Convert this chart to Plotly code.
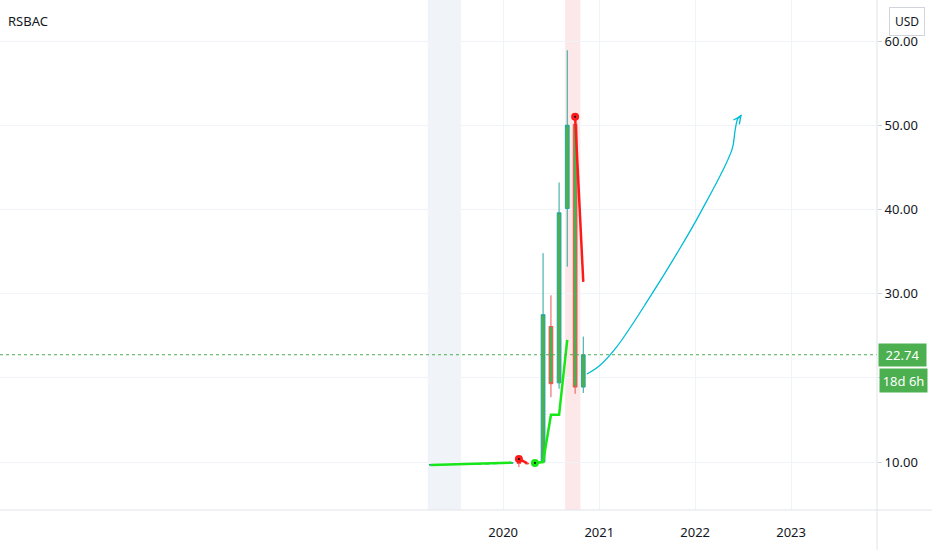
import plotly.graph_objects as go

# ---- data ----
candle_dates = ["2019-04-01", "2019-05-01", "2019-06-01", "2019-07-01",
                "2019-08-01", "2019-09-01", "2019-10-01", "2019-11-01", "2019-12-01",
                "2020-01-01", "2020-02-01", "2020-03-01", "2020-04-01", "2020-05-01",
                "2020-06-01", "2020-07-01", "2020-08-01", "2020-09-01", "2020-10-01",
                "2020-11-01"]
opens  = [9.65, 9.67, 9.68, 9.70, 9.72, 9.74, 9.76, 9.78, 9.80, 9.82, 9.86, 9.92, 9.85, 9.80,
          10.00, 26.10, 19.40, 40.10, 50.10, 18.90]
highs  = [9.70, 9.72, 9.75, 9.80, 9.78, 9.80, 9.82, 9.84, 9.86, 9.90, 10.00, 10.30, 9.95, 10.10,
          34.80, 29.80, 43.20, 58.90, 50.30, 24.90]
lows   = [9.62, 9.64, 9.66, 9.68, 9.70, 9.72, 9.74, 9.76, 9.78, 9.80, 9.84, 9.40, 9.70, 9.75,
          9.90, 17.70, 18.70, 33.20, 18.10, 18.20]
closes = [9.67, 9.68, 9.70, 9.72, 9.74, 9.76, 9.78, 9.80, 9.82, 9.86, 9.92, 9.85, 9.80, 10.00,
          27.50, 19.30, 39.60, 50.00, 18.90, 22.74]

# indicator segments
ind_green1_dates = ["2019-04-01", "2019-09-01", "2020-02-01"]
ind_green1_vals = [9.64, 9.76, 9.93]
ind_red1_dates = ["2020-03-01", "2020-04-01"]
ind_red1_vals = [10.36, 9.88]
ind_green2_dates = ["2020-05-01", "2020-06-01", "2020-07-01", "2020-08-01", "2020-09-01"]
ind_green2_vals = [9.88, 10.0, 15.6, 15.6, 24.5]
ind_red2_dates = ["2020-10-01", "2020-11-01"]
ind_red2_vals = [51.0, 31.4]
dot_red_dates = ["2020-03-01", "2020-10-01"]
dot_red_vals = [10.36, 51.0]
dot_green_dates = ["2020-05-01"]
dot_green_vals = [9.88]

# projection drawing
proj_dates = ["2020-11-15", "2021-01-04", "2021-03-09", "2021-07-13", "2021-10-24",
              "2022-01-19", "2022-05-21", "2022-06-02", "2022-06-13", "2022-06-27"]
proj_vals = [20.45, 21.5, 23.7, 29.6, 34.8, 39.5, 47.1, 49.4, 50.85, 51.2]

last_price = 22.74
countdown = "18d 6h"
symbol = "RSBAC"
currency = "USD"

y_ticks = [10, 20, 30, 40, 50, 60]
y_labels = ["10.00", "", "30.00", "40.00", "50.00", "60.00"]
x_ticks = ["2020-01-01", "2021-01-01", "2022-01-01", "2023-01-01"]
x_labels = ["2020", "2021", "2022", "2023"]

gray_band = ["2019-03-20", "2019-07-24"]
pink_band = ["2020-08-24", "2020-10-21"]

# ---- figure ----
FONT = "Noto Sans"
W, H = 932, 550
PW, PH = 877, 510
fig = go.Figure()

fig.add_trace(go.Candlestick(
    x=candle_dates, open=opens, high=highs, low=lows, close=closes,
    increasing=dict(line=dict(color="#26a69a", width=1), fillcolor="#4caf50"),
    decreasing=dict(line=dict(color="#ef5350", width=1), fillcolor="#4caf50"),
    whiskerwidth=0, showlegend=False, hoverinfo="skip"))

for d, v, c in [(ind_green1_dates, ind_green1_vals, "#17e617"),
                (ind_red1_dates, ind_red1_vals, "#ff1a1a"),
                (ind_green2_dates, ind_green2_vals, "#17e617"),
                (ind_red2_dates, ind_red2_vals, "#ff1a1a")]:
    fig.add_trace(go.Scatter(x=d, y=v, mode="lines", line=dict(color=c, width=2.5),
                             showlegend=False, hoverinfo="skip"))

fig.add_trace(go.Scatter(x=dot_red_dates, y=dot_red_vals, mode="markers",
                         marker=dict(color="#000000", size=5, line=dict(color="#ff1a1a", width=3)),
                         showlegend=False, hoverinfo="skip"))
fig.add_trace(go.Scatter(x=dot_green_dates, y=dot_green_vals, mode="markers",
                         marker=dict(color="#000000", size=5, line=dict(color="#17e617", width=3)),
                         showlegend=False, hoverinfo="skip"))

fig.add_trace(go.Scatter(x=proj_dates, y=proj_vals, mode="lines",
                         line=dict(color="#00bcd4", width=1.3, shape="spline"),
                         showlegend=False, hoverinfo="skip"))

# arrow head on projection
fig.add_annotation(x=proj_dates[-1], y=proj_vals[-1], xref="x", yref="y",
                   ax=-3, ay=4, showarrow=True, arrowhead=5, arrowsize=1.3,
                   arrowwidth=1.1, arrowcolor="#00bcd4", text="")

# bands
fig.add_shape(type="rect", xref="x", yref="paper", x0=gray_band[0], x1=gray_band[1],
              y0=0, y1=1, fillcolor="#f0f3f7", line=dict(width=0), layer="below")
fig.add_shape(type="rect", xref="x", yref="paper", x0=pink_band[0], x1=pink_band[1],
              y0=0, y1=1, fillcolor="#fde8e9", line=dict(width=0), layer="below")

# last price line
fig.add_shape(type="line", xref="paper", yref="y", x0=0, x1=1, y0=last_price, y1=last_price,
              line=dict(color="#4caf50", width=1, dash="dot"))

# frame lines
fig.add_shape(type="line", xref="paper", yref="paper", x0=1, x1=1, y0=-(H - PH) / PH, y1=1,
              line=dict(color="#e0e3eb", width=1))
fig.add_shape(type="line", xref="paper", yref="paper", x0=0, x1=W / PW, y0=0, y1=0,
              line=dict(color="#e0e3eb", width=1))

# price labels
fig.add_annotation(x=1, y=last_price, xref="paper", yref="y", xanchor="left", yanchor="middle",
                   text=f"{last_price:.2f}", showarrow=False, bgcolor="#4caf50",
                   font=dict(color="white", size=13, family=FONT), width=41, height=16,
                   borderpad=3, xshift=1)
fig.add_annotation(x=1, y=last_price, xref="paper", yref="y", xanchor="left", yanchor="middle",
                   text=countdown, showarrow=False, bgcolor="#4caf50",
                   font=dict(color="white", size=13, family=FONT), width=41, height=17,
                   borderpad=3, xshift=2, yshift=-26)

fig.add_annotation(x=6 / PW, y=1 - 21 / PH, xref="paper", yref="paper", text=symbol,
                   showarrow=False, xanchor="left", yanchor="middle",
                   font=dict(color="#131722", size=13, family=FONT))

fig.add_annotation(x=925 / PW, y=1 - 22 / PH, xref="paper", yref="paper", xanchor="right",
                   yanchor="middle", text=currency, showarrow=False, bgcolor="white",
                   bordercolor="#d1d4dc", borderwidth=1, borderpad=5,
                   font=dict(color="#131722", size=12, family=FONT))

fig.update_layout(
    width=W, height=H,
    margin=dict(l=0, r=W - PW, t=0, b=H - PH, autoexpand=False),
    paper_bgcolor="white", plot_bgcolor="white",
    showlegend=False,
    font=dict(family=FONT, size=13, color="#131722"),
    xaxis=dict(type="date", range=["2014-10-04", "2023-11-24"], tickvals=x_ticks,
               ticktext=x_labels, showgrid=True, gridcolor="#f0f3fa", gridwidth=1,
               zeroline=False, showline=False, ticks="", rangeslider=dict(visible=False),
               tickfont=dict(size=13, color="#131722", family=FONT), ticklabelstandoff=13),
    yaxis=dict(side="right", range=[4.30, 64.87], tickvals=y_ticks, ticktext=y_labels,
               showgrid=True, gridcolor="#f0f3fa", gridwidth=1, zeroline=False,
               showline=False, ticks="outside", ticklen=4, tickcolor="#d1d4dc",
               tickfont=dict(size=13, color="#131722", family=FONT)),
)

fig.write_html("out.html", config=dict(displayModeBar=False),
               post_script="document.body.style.margin='0px';document.body.style.overflow='hidden';")
